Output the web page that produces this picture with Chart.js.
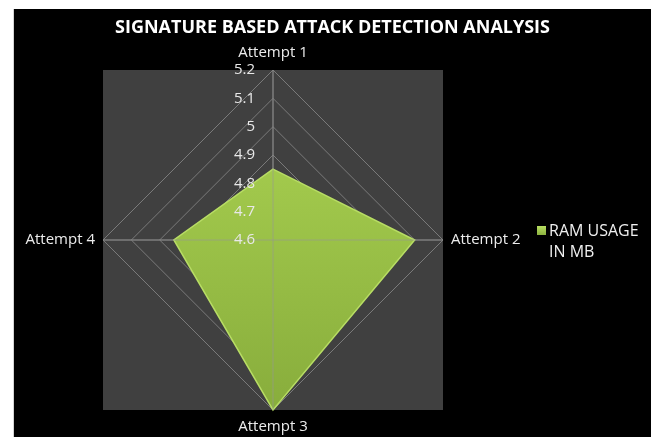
<!DOCTYPE html>
<html>
<head>
<meta charset="utf-8">
<script src="https://cdn.jsdelivr.net/npm/chart.js@4.4.1/dist/chart.umd.min.js"></script>
<style>
  html, body { margin: 0; padding: 0; background: #fff; }
  #wrap {
    position: absolute; left: 13px; top: 9px;
    width: 638px; height: 428px;
    box-sizing: border-box;
    border-left: 1px solid #d4d4d4;
    background: #000;
  }
  canvas { display: block; }
</style>
</head>
<body>
<div id="wrap"><canvas id="radar"></canvas></div>
<script>
const categories = ["Attempt 1", "Attempt 2", "Attempt 3", "Attempt 4"];
const ramUsage = [4.85, 5.1, 5.2, 4.95];
const tickValues = [4.6, 4.7, 4.8, 4.9, 5.0, 5.1, 5.2];
const seriesName = "RAM USAGE IN MB";
const legendLines = ["RAM USAGE", "IN MB"];
const chartTitle = "SIGNATURE BASED ATTACK DETECTION ANALYSIS";

const FONT = "'Open Sans', 'Noto Sans', sans-serif";

function formatTick(v) {
    return parseFloat(v.toFixed(1)).toString();
}

// grey square behind the radar, ticks and axis lines on top of the fill, title, legend
const radarExtras = {
    id: "radarExtras",
    beforeDraw(chart) {
        const s = chart.scales.r;
        const ctx = chart.ctx;
        const r = s.drawingArea;
        ctx.save();
        ctx.fillStyle = "#404040";
        ctx.fillRect(s.xCenter - r, s.yCenter - r, r * 2, r * 2);
        ctx.restore();
    },
    afterDatasetsDraw(chart) {
        const s = chart.scales.r;
        const ctx = chart.ctx;
        ctx.save();
        ctx.strokeStyle = "rgba(150, 150, 150, 0.6)";
        ctx.lineWidth = 1;
        categories.forEach((_, i) => {
            const p = s.getPointPositionForValue(i, s.max);
            ctx.beginPath();
            ctx.moveTo(s.xCenter, s.yCenter);
            ctx.lineTo(p.x, p.y);
            ctx.stroke();
        });

        ctx.fillStyle = "#e8e8e8";
        ctx.font = "15px " + FONT;
        ctx.textAlign = "right";
        ctx.textBaseline = "middle";
        s.ticks.forEach(t => {
            const d = s.getDistanceFromCenterForValue(t.value);
            ctx.fillText(formatTick(t.value), s.xCenter - 18, s.yCenter - d);
        });
        ctx.restore();
    },
    afterDraw(chart) {
        const ctx = chart.ctx;
        ctx.save();
        ctx.fillStyle = "#ffffff";
        ctx.font = "bold 18px " + FONT;
        ctx.textAlign = "center";
        ctx.textBaseline = "middle";
        ctx.fillText(chartTitle, chart.width / 2, 19);

        // legend
        const bx = 523, by = 217;
        const g = ctx.createLinearGradient(0, by, 0, by + 9);
        g.addColorStop(0, "#b8de62");
        g.addColorStop(1, "#8cb23f");
        ctx.fillStyle = g;
        ctx.fillRect(bx, by, 9, 9);
        ctx.fillStyle = "#f0f0f0";
        ctx.font = "16px " + FONT;
        ctx.textAlign = "left";
        ctx.textBaseline = "alphabetic";
        legendLines.forEach((line, i) => {
            ctx.fillText(line, 535, 227 + i * 21);
        });
        ctx.restore();
    }
};

const ctx = document.getElementById("radar").getContext("2d");

new Chart(ctx, {
    type: "radar",
    data: {
        labels: categories,
        datasets: [{
            label: seriesName,
            data: ramUsage,
            borderColor: "#b8dd64",
            borderWidth: 1.5,
            pointRadius: 0,
            fill: true,
            backgroundColor: (c) => {
                const chart = c.chart;
                const s = chart.scales.r;
                if (!s || !chart.chartArea) {
                    return "#9bc346";
                }
                const g = chart.ctx.createLinearGradient(0, s.yCenter - s.drawingArea, 0, s.yCenter + s.drawingArea);
                g.addColorStop(0, "#add553");
                g.addColorStop(1, "#88ad3c");
                return g;
            },
        }],
    },
    options: {
        responsive: true,
        maintainAspectRatio: false,
        animation: false,
        layout: {
            padding: { top: 35, right: 119, bottom: 0, left: 0 },
        },
        scales: {
            r: {
                min: tickValues[0],
                max: tickValues[tickValues.length - 1],
                beginAtZero: false,
                ticks: {
                    stepSize: 0.1,
                    display: false,
                },
                grid: {
                    color: "#7a7a7a",
                    lineWidth: 1,
                },
                angleLines: {
                    color: "#7a7a7a",
                },
                pointLabels: {
                    color: "#ececec",
                    padding: 8,
                    font: { family: FONT, size: 15 },
                },
            },
        },
        plugins: {
            legend: { display: false },
            title: { display: false },
            tooltip: { enabled: false },
        },
    },
    plugins: [radarExtras],
});
</script>
</body>
</html>
